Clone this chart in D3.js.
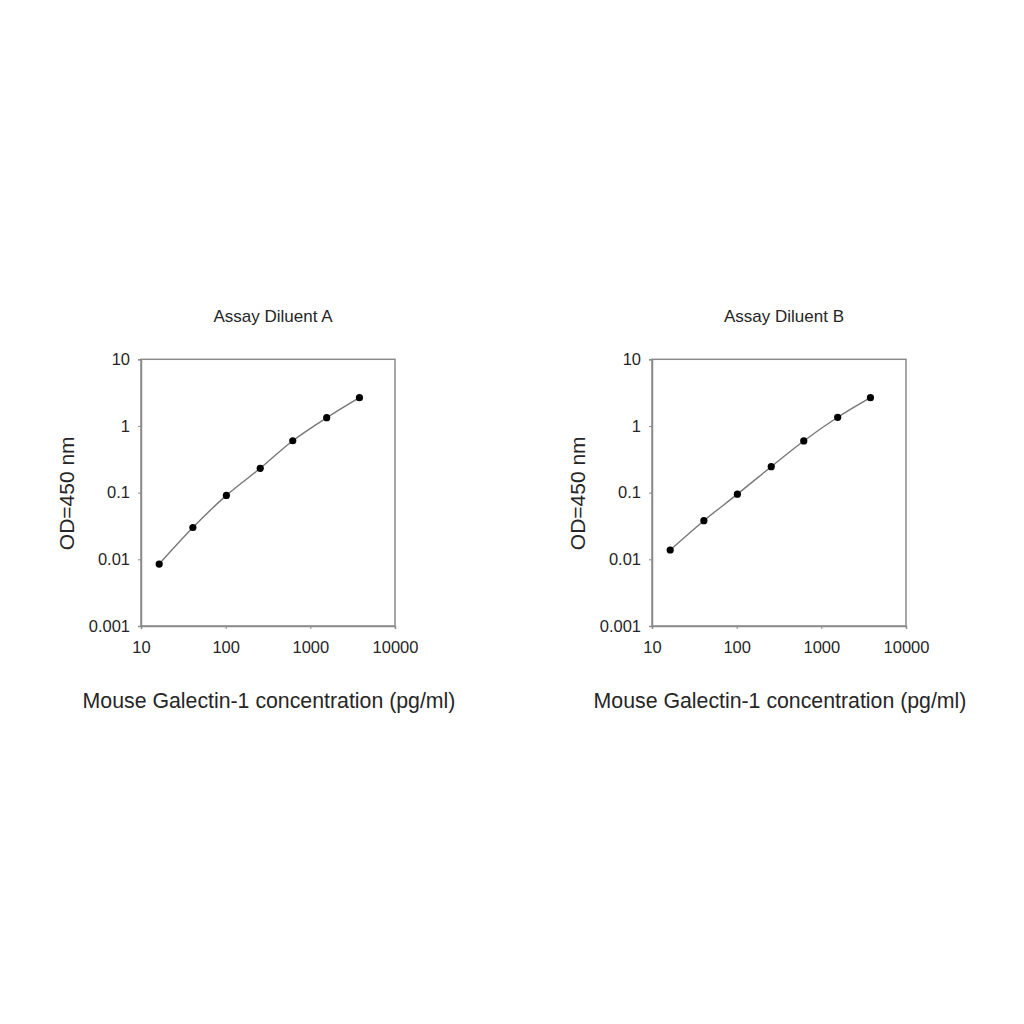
<!DOCTYPE html>
<html>
<head>
<meta charset="utf-8">
<script src="https://cdn.jsdelivr.net/npm/d3@7"></script>
<style>
  html, body { margin: 0; padding: 0; background: #fff; }
  svg { display: block; }
  text { font-family: "Liberation Sans", Arial, Helvetica, sans-serif; fill: #262626; }
</style>
</head>
<body>
<svg id="chart" width="1024" height="1024"></svg>
<script>
// ---- data ----
const panelTitles = ["Assay Diluent A", "Assay Diluent B"];
const concentrations = [16.4, 41, 102, 256, 620, 1560, 3800];
const odDiluentA = [0.0085, 0.030, 0.091, 0.232, 0.60, 1.33, 2.66];
const odDiluentB = [0.0138, 0.038, 0.095, 0.245, 0.596, 1.35, 2.66];
const xTickValues = [10, 100, 1000, 10000];
const xTickLabels = ["10", "100", "1000", "10000"];
const yTickValues = [0.001, 0.01, 0.1, 1, 10];
const yTickLabels = ["0.001", "0.01", "0.1", "1", "10"];
const xAxisTitle = "Mouse Galectin-1 concentration (pg/ml)";
const yAxisTitle = "OD=450 nm";

const seriesList = [odDiluentA, odDiluentB];

const svg = d3.select("#chart");
const panelLeft = [141, 652];
const plotTop = 359.3, plotW = 254, plotH = 266.7;
const frameColor = "#8a8a8a";

seriesList.forEach((series, i) => {
  const g = svg.append("g").attr("transform", `translate(${panelLeft[i]},${plotTop})`);
  const x = d3.scaleLog().domain([10, 10000]).range([0, plotW]);
  const y = d3.scaleLog().domain([0.001, 10]).range([plotH, 0]);

  g.append("rect").attr("x", 0).attr("y", 0).attr("width", plotW).attr("height", plotH)
    .attr("fill", "none").attr("stroke", frameColor).attr("stroke-width", 1.5);

  const xAxis = d3.axisBottom(x).tickValues(xTickValues)
    .tickFormat((d, k) => xTickLabels[k]).tickSize(3).tickPadding(12);
  const gx = g.append("g").attr("transform", `translate(0,${plotH})`).call(xAxis);
  gx.select(".domain").attr("stroke", frameColor).attr("stroke-width", 1.5);
  gx.selectAll(".tick line").attr("stroke", frameColor);
  gx.selectAll(".tick text").attr("font-size", 16.5).attr("fill", "#262626")
    .attr("font-family", "Liberation Sans, Arial, sans-serif");

  const yAxis = d3.axisLeft(y).tickValues(yTickValues)
    .tickFormat((d, k) => yTickLabels[k]).tickSize(3).tickPadding(8);
  const gy = g.append("g").call(yAxis);
  gy.select(".domain").attr("stroke", frameColor).attr("stroke-width", 1.5);
  gy.selectAll(".tick line").attr("stroke", frameColor);
  gy.selectAll(".tick text").attr("font-size", 16.5).attr("fill", "#262626")
    .attr("font-family", "Liberation Sans, Arial, sans-serif");

  g.append("text").attr("x", plotW / 2 + 5).attr("y", -37)
    .attr("text-anchor", "middle").attr("font-size", 17).attr("fill", "#3a3a3a")
    .text(panelTitles[i]);

  g.append("text").attr("x", plotW / 2 + 1).attr("y", plotH + 82)
    .attr("text-anchor", "middle").attr("font-size", 21.3)
    .text(xAxisTitle);
  g.append("text").attr("transform", `translate(${-67},${134}) rotate(-90)`)
    .attr("text-anchor", "middle").attr("font-size", 21)
    .text(yAxisTitle);

  const pts = concentrations.map((c, k) => [c, series[k]]);
  const line = d3.line().x(d => x(d[0])).y(d => y(d[1])).curve(d3.curveCatmullRom.alpha(0.5));
  g.append("path").datum(pts).attr("d", line)
    .attr("fill", "none").attr("stroke", "#777").attr("stroke-width", 1.4);

  g.selectAll("circle.pt").data(pts).enter().append("circle").attr("class", "pt")
    .attr("cx", d => x(d[0])).attr("cy", d => y(d[1])).attr("r", 3.6)
    .attr("fill", "#000");
});
</script>
</body>
</html>
